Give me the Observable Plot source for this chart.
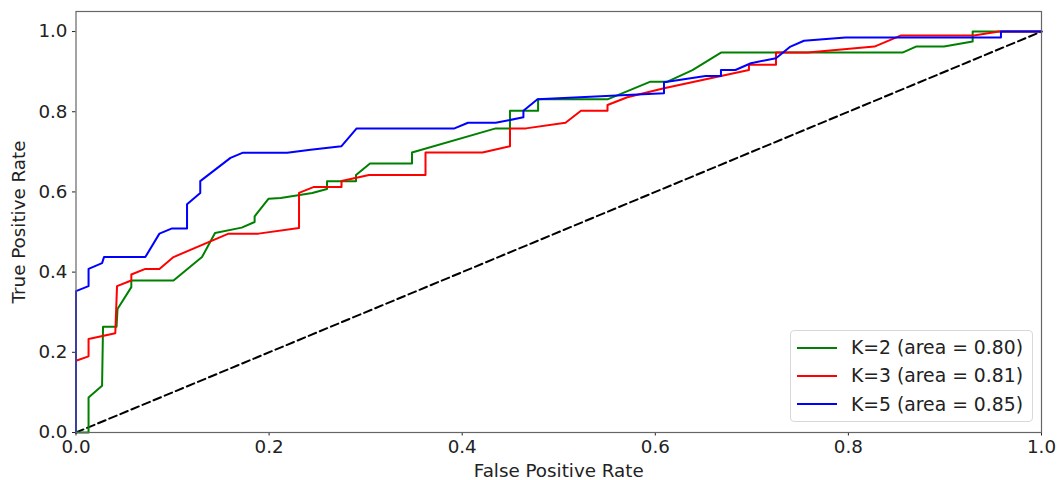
<!DOCTYPE html>
<html>
<head>
<meta charset="utf-8">
<script src="https://cdn.jsdelivr.net/npm/d3@7"></script>
<script src="https://cdn.jsdelivr.net/npm/@observablehq/plot@0.6"></script>
<style>
  html, body { margin: 0; padding: 0; background: #fff; }
  #wrap { position: relative; width: 1059px; height: 480px; font-family: "DejaVu Sans", sans-serif; }
  #legend { position: absolute; left: 790px; top: 330px; width: 243px; height: 92px;
    border: 1px solid #d9d9d9; border-radius: 4px; background: rgba(255,255,255,0.8);
    box-sizing: border-box; font-size: 18.8px; color: #222; }
  .row { position: absolute; left: 6px; height: 22px; display: flex; align-items: center; white-space: nowrap; }
  .sw { width: 40px; height: 0; border-top: 2px solid; margin-right: 14px; }
</style>
</head>
<body>
<div id="wrap"></div>
<script>
const seriesNames = ["K=2 (area = 0.80)", "K=3 (area = 0.81)", "K=5 (area = 0.85)"];
const seriesColors = ["#008000", "#ff0000", "#0000ff"];

const fprK2 = [0, 0.013, 0.013, 0.027, 0.028, 0.042, 0.043, 0.0573, 0.0573, 0.101, 0.1305, 0.144, 0.1716, 0.185, 0.185, 0.1995, 0.212, 0.2447, 0.260, 0.260, 0.290, 0.290, 0.3045, 0.348, 0.348, 0.4347, 0.4495, 0.4495, 0.4786, 0.4786, 0.5505, 0.595, 0.6126, 0.6385, 0.668, 0.856, 0.870, 0.899, 0.9287, 0.9287, 1.0];
const tprK2 = [0, 0, 0.0875, 0.1167, 0.264, 0.264, 0.308, 0.3625, 0.379, 0.379, 0.4375, 0.4975, 0.511, 0.525, 0.539, 0.583, 0.585, 0.5975, 0.6075, 0.6267, 0.6267, 0.642, 0.671, 0.671, 0.6985, 0.7585, 0.7585, 0.8025, 0.8025, 0.831, 0.831, 0.875, 0.875, 0.904, 0.9475, 0.9475, 0.9625, 0.9625, 0.975, 1.0, 1.0];

const fprK3 = [0, 0, 0.013, 0.013, 0.0407, 0.0425, 0.0573, 0.0573, 0.0718, 0.0864, 0.101, 0.158, 0.189, 0.231, 0.231, 0.2465, 0.275, 0.275, 0.3035, 0.362, 0.362, 0.421, 0.4495, 0.4495, 0.466, 0.507, 0.523, 0.5505, 0.5505, 0.571, 0.609, 0.668, 0.697, 0.697, 0.725, 0.725, 0.758, 0.827, 0.854, 0.930, 0.956, 1.0];
const tprK3 = [0, 0.179, 0.19, 0.233, 0.2475, 0.365, 0.379, 0.394, 0.408, 0.408, 0.4375, 0.496, 0.496, 0.51, 0.5975, 0.6125, 0.6125, 0.6275, 0.642, 0.642, 0.6985, 0.6985, 0.714, 0.7585, 0.7585, 0.7725, 0.8025, 0.8025, 0.8167, 0.836, 0.8585, 0.889, 0.904, 0.917, 0.917, 0.9475, 0.9475, 0.9625, 0.99, 0.99, 1.0, 1.0];

const fprK5 = [0, 0, 0.013, 0.013, 0.027, 0.029, 0.0718, 0.0864, 0.0995, 0.115, 0.115, 0.1287, 0.1287, 0.16, 0.173, 0.2187, 0.243, 0.275, 0.2907, 0.392, 0.406, 0.4347, 0.4634, 0.4634, 0.478, 0.609, 0.609, 0.652, 0.668, 0.668, 0.683, 0.699, 0.725, 0.740, 0.754, 0.797, 0.958, 0.958, 1.0];
const tprK5 = [0, 0.3525, 0.365, 0.408, 0.4225, 0.4375, 0.4375, 0.496, 0.509, 0.509, 0.569, 0.5975, 0.627, 0.685, 0.698, 0.698, 0.705, 0.714, 0.7585, 0.7585, 0.7725, 0.7725, 0.786, 0.8025, 0.831, 0.846, 0.8735, 0.889, 0.889, 0.904, 0.904, 0.921, 0.9335, 0.9625, 0.977, 0.985, 0.985, 1.0, 1.0];

const chanceX = [0, 1];
const chanceY = [0, 1];
const xTicks = [0, 0.2, 0.4, 0.6, 0.8, 1.0];
const yTicks = [0, 0.2, 0.4, 0.6, 0.8, 1.0];

const fprs = [fprK2, fprK3, fprK5];
const tprs = [tprK2, tprK3, tprK5];
const rows = [];
seriesNames.forEach((name, i) => {
  fprs[i].forEach((f, j) => rows.push({series: name, fpr: f, tpr: tprs[i][j]}));
});
const diag = chanceX.map((x, i) => ({fpr: x, tpr: chanceY[i]}));

const chart = Plot.plot({
  width: 1059,
  height: 480,
  marginLeft: 75.5,
  marginRight: 18,
  marginTop: 11,
  marginBottom: 48,
  style: {fontFamily: "DejaVu Sans, sans-serif", fontSize: "18.3px", color: "#222", background: "#fff"},
  x: {domain: [0, 1], ticks: xTicks, tickFormat: d3.format(".1f"), label: "False Positive Rate", labelAnchor: "center", labelArrow: "none", labelOffset: 44, tickSize: 3.5, tickPadding: 4},
  y: {domain: [0, 1.05], ticks: yTicks, tickFormat: d3.format(".1f"), label: "True Positive Rate", labelAnchor: "center", labelArrow: "none", labelOffset: 64, tickSize: 3.5, tickPadding: 5},
  color: {domain: seriesNames, range: seriesColors},
  marks: [
    Plot.line(diag, {x: "fpr", y: "tpr", stroke: "#000", strokeWidth: 2, strokeDasharray: "8,4"}),
    Plot.line(rows, {x: "fpr", y: "tpr", z: "series", stroke: "series", strokeWidth: 2}),
    Plot.frame({stroke: "#666", strokeWidth: 1.2})
  ]
});
document.getElementById("wrap").appendChild(chart);

const leg = document.createElement("div");
leg.id = "legend";
seriesNames.forEach((name, i) => {
  const r = document.createElement("div");
  r.className = "row";
  r.style.top = (5.5 + i * 28.3) + "px";
  const sw = document.createElement("span");
  sw.className = "sw";
  sw.style.borderColor = seriesColors[i];
  const t = document.createElement("span");
  t.textContent = name;
  r.appendChild(sw); r.appendChild(t);
  leg.appendChild(r);
});
document.getElementById("wrap").appendChild(leg);
</script>
</body>
</html>
